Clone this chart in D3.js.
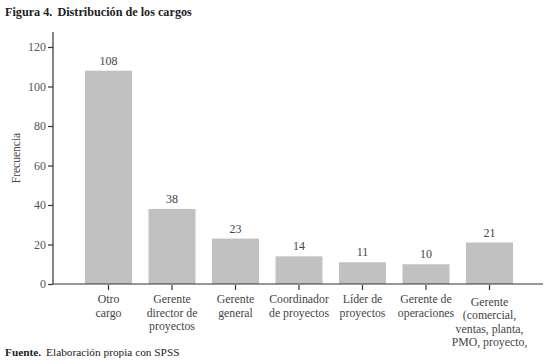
<!DOCTYPE html>
<html><head><meta charset="utf-8">
<script src="https://cdn.jsdelivr.net/npm/d3@7"></script>
<style>
body{margin:0;background:#fff;}
svg{display:block;}
</style></head>
<body>
<svg id="c" width="549" height="364"></svg>
<script>
const categories = ["Otro cargo","Gerente director de proyectos","Gerente general","Coordinador de proyectos","Líder de proyectos","Gerente de operaciones","Gerente (comercial, ventas, planta, PMO, proyecto,"];
const labelLines = [["Otro","cargo"],["Gerente","director de","proyectos"],["Gerente","general"],["Coordinador","de proyectos"],["Líder de","proyectos"],["Gerente de","operaciones"],["Gerente","(comercial,","ventas, planta,","PMO, proyecto,"]];
const values = [108,38,23,14,11,10,21];
const yTicks = [0,20,40,60,80,100,120];
const title = ["Figura 4.", "Distribución de los cargos"];
const source = ["Fuente.", "Elaboración propia con SPSS"];
const yLabel = "Frecuencia";

const FF = '"Liberation Serif", "Times New Roman", serif';
const svg = d3.select("#c");
const x = d3.scaleBand().domain(categories).range([76.75,521.25]).paddingInner(0.26).paddingOuter(0.13);
const y = d3.scaleLinear().domain([0,120]).range([284,47]);
const axisColor = "#333";
const textColor = "#444";

// title
const t = svg.append("text").attr("x",5).attr("y",16).style("font-family",FF).attr("font-size",12.2).attr("font-weight","bold").attr("fill","#222");
t.append("tspan").text(title[0]);
t.append("tspan").attr("dx",5).text(title[1]);

// bars
svg.selectAll("rect.bar").data(values).enter().append("rect")
  .attr("x",(d,i)=>x(categories[i])).attr("width",x.bandwidth())
  .attr("y",d=>y(d)).attr("height",d=>y(0)-y(d)).attr("fill","#c1c1c1");

// value labels
svg.selectAll("text.val").data(values).enter().append("text")
  .attr("x",(d,i)=>x(categories[i])+x.bandwidth()/2).attr("y",d=>y(d)-6)
  .attr("text-anchor","middle").style("font-family",FF).attr("font-size",12).attr("fill",textColor).text(d=>d);

// y axis
const ya = svg.append("g").attr("transform","translate(53,0)")
  .call(d3.axisLeft(y).tickValues(yTicks).tickSize(5).tickPadding(2));
ya.select(".domain").attr("d","M0,32V284").attr("stroke",axisColor).attr("stroke-width",1.2);
ya.selectAll(".tick line").attr("stroke",axisColor).attr("stroke-width",1.2);
ya.selectAll(".tick text").style("font-family",FF).attr("font-size",12).attr("fill","#555");

// x axis
const xa = svg.append("g").attr("transform","translate(0,284)")
  .call(d3.axisBottom(x).tickSize(6).tickFormat(""));
xa.select(".domain").attr("d","M53,0H543").attr("stroke",axisColor).attr("stroke-width",1.2);
xa.selectAll(".tick line").attr("stroke",axisColor).attr("stroke-width",1.2).attr("y1",1);
xa.selectAll(".tick").each(function(d,i){
  const g = d3.select(this);
  const tx = g.append("text").attr("text-anchor","middle")
    .attr("font-size",11.8).attr("fill",textColor).style("font-family",FF);
  const off = i === labelLines.length-1 ? 2.5 : 0;
  labelLines[i].forEach((l,j)=>{
    tx.append("tspan").attr("x",0).attr("y",j*13.6+19+off).text(l);
  });
});

// y label
svg.append("text").attr("transform","translate(20,158) rotate(-90)").attr("text-anchor","middle")
  .style("font-family",FF).attr("font-size",11.5).attr("fill",textColor).text(yLabel);

// source
const s = svg.append("text").attr("x",5).attr("y",356).style("font-family",FF).attr("font-size",11.3).attr("fill","#222");
s.append("tspan").attr("font-weight","bold").text(source[0]);
s.append("tspan").attr("dx",5).text(source[1]);
</script>
</body></html>
